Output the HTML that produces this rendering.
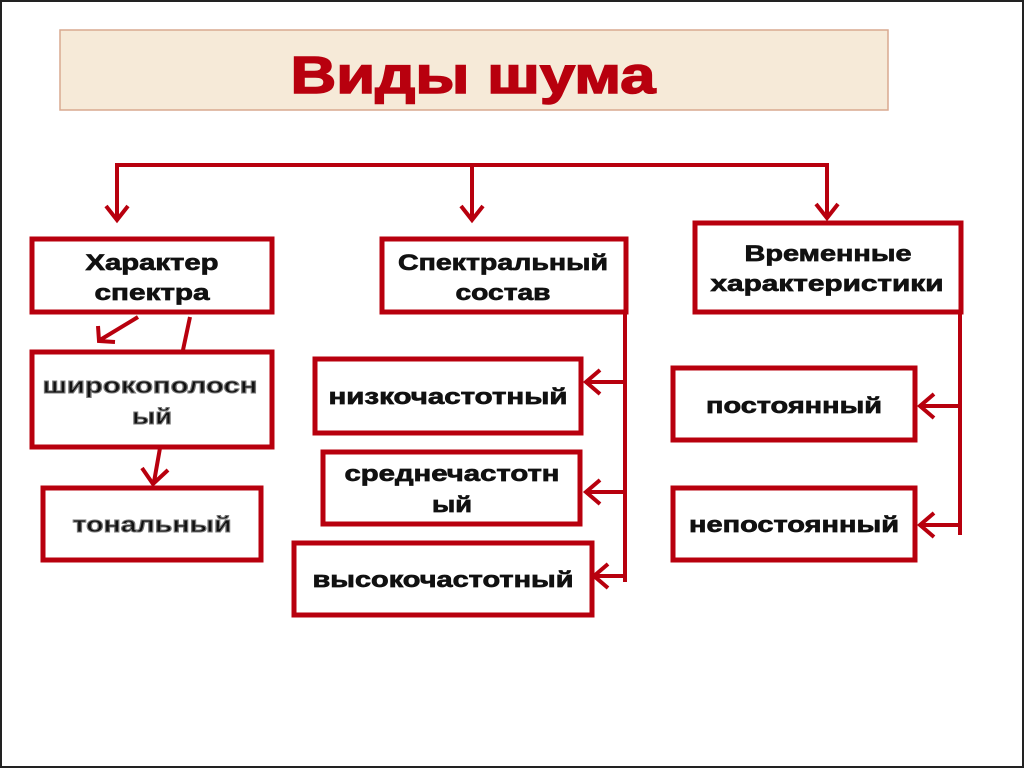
<!DOCTYPE html>
<html><head><meta charset="utf-8"><style>
body{margin:0;width:1024px;height:768px;overflow:hidden;background:#fff}
svg text{font-family:"Liberation Sans",sans-serif;font-weight:bold;text-anchor:middle}
</style></head><body>
<svg width="1024" height="768" viewBox="0 0 1024 768">
<rect x="1" y="1" width="1022" height="766" fill="#fff" stroke="#222" stroke-width="2"/>
<rect x="60" y="30" width="828" height="80" fill="#f6ead8" stroke="#d9a98f" stroke-width="1.5"/>
<text x="473" y="93" font-size="52" fill="#b8000e" stroke="#b8000e" stroke-width="1.5" textLength="365" lengthAdjust="spacingAndGlyphs">Виды шума</text>
<g stroke="#b8000e" stroke-width="4" fill="none">
<path d="M117 220V165H827V218M472 165V220"/>
<path d="M106 206L117 220L128 206M461 206L472 220L483 206M816 204L827 218L838 204"/>
<path d="M625 312V582M625 382H588M625 492H588M625 576H596"/>
<path d="M600 370L586 382L600 394M600 480L586 492L600 504M608 564L594 576L608 588"/>
<path d="M960 312V535M960 406H922M960 525H922"/>
<path d="M934 394L920 406L934 418M934 513L920 525L934 537"/>
<path d="M138 317L100 340M98 326L99 341L115 342"/>
<path d="M190 317L183 350"/>
<path d="M160 448L154 482M142 468L153 484L168 470"/>
</g>
<g fill="#fff" stroke="#b8000e" stroke-width="5">
<rect x="32" y="239" width="240" height="73"/>
<rect x="32" y="352" width="240" height="95"/>
<rect x="43" y="488" width="218" height="72"/>
<rect x="382" y="239" width="244" height="73"/>
<rect x="315" y="359" width="266" height="74"/>
<rect x="323" y="452" width="257" height="72"/>
<rect x="294" y="543" width="298" height="72"/>
<rect x="695" y="223" width="266" height="89"/>
<rect x="673" y="368" width="242" height="72"/>
<rect x="673" y="488" width="242" height="72"/>
</g>
<g font-size="22" fill="#111" stroke="#111" stroke-width="0.7">
<text x="152" y="270" textLength="133" lengthAdjust="spacingAndGlyphs">Характер</text><text x="152" y="300" textLength="115" lengthAdjust="spacingAndGlyphs">спектра</text>
<text x="503" y="270" textLength="210" lengthAdjust="spacingAndGlyphs">Спектральный</text><text x="503" y="300" textLength="95" lengthAdjust="spacingAndGlyphs">состав</text>
<text x="828" y="261" textLength="167" lengthAdjust="spacingAndGlyphs">Временные</text><text x="827" y="291" textLength="233" lengthAdjust="spacingAndGlyphs">характеристики</text>
<text x="448" y="404" textLength="239" lengthAdjust="spacingAndGlyphs">низкочастотный</text>
<text x="452" y="481" textLength="215" lengthAdjust="spacingAndGlyphs">среднечастотн</text><text x="452" y="512" textLength="40" lengthAdjust="spacingAndGlyphs">ый</text>
<text x="443" y="587" textLength="261" lengthAdjust="spacingAndGlyphs">высокочастотный</text>
<text x="794" y="413" textLength="176" lengthAdjust="spacingAndGlyphs">постоянный</text>
<text x="794" y="532" textLength="210" lengthAdjust="spacingAndGlyphs">непостоянный</text>
</g>
<g font-size="22" fill="#111" stroke="#777" stroke-width="1">
<text x="150" y="393" textLength="215" lengthAdjust="spacingAndGlyphs">широкополосн</text><text x="152" y="424" textLength="40" lengthAdjust="spacingAndGlyphs">ый</text>
<text x="152" y="532" textLength="159" lengthAdjust="spacingAndGlyphs">тональный</text>
</g>
</svg>
</body></html>
